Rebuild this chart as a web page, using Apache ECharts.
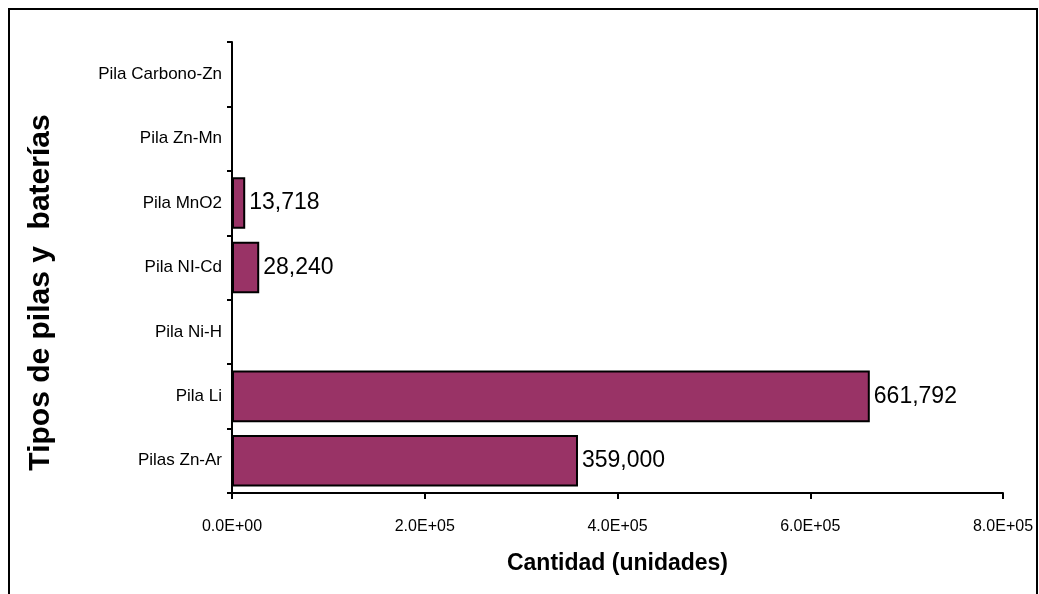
<!DOCTYPE html>
<html>
<head>
<meta charset="utf-8">
<script src="https://cdn.jsdelivr.net/npm/echarts@6/dist/echarts.min.js"></script>
<style>
  html, body { margin: 0; padding: 0; background: #fff; }
  #chart { width: 1039px; height: 594px; }
</style>
</head>
<body>
<div id="chart"></div>
<script>
// categories listed bottom to top
const categories = ['Pilas Zn-Ar', 'Pila Li', 'Pila Ni-H', 'Pila NI-Cd', 'Pila MnO2', 'Pila Zn-Mn', 'Pila Carbono-Zn'];
const quantities = [359000, 661792, null, 28240, 13718, null, null];
const xTicks = [0, 200000, 400000, 600000, 800000];

const font = '"Liberation Sans", Arial, sans-serif';

// 2.0E+05 style
function sci(v) {
  if (v === 0) return '0.0E+00';
  const exp = Math.floor(Math.log10(Math.abs(v)));
  const mant = (v / Math.pow(10, exp)).toFixed(1);
  const e = String(Math.abs(exp)).padStart(2, '0');
  return mant + 'E' + (exp < 0 ? '-' : '+') + e;
}

const chart = echarts.init(document.getElementById('chart'));

chart.setOption({
  backgroundColor: '#fff',
  animation: false,
  graphic: [{
    type: 'rect',
    shape: { x: 9, y: 9, width: 1028, height: 620 },
    style: { fill: 'none', stroke: '#000', lineWidth: 2 },
    silent: true
  }],
  grid: { left: 232, right: 36, top: 42, bottom: 101 },
  xAxis: {
    type: 'value',
    min: xTicks[0],
    max: xTicks[xTicks.length - 1],
    interval: xTicks[1] - xTicks[0],
    name: 'Cantidad (unidades)',
    nameLocation: 'middle',
    nameGap: 59,
    nameTextStyle: { fontFamily: font, fontSize: 23, fontWeight: 'bold', color: '#000' },
    axisLine: { show: true, lineStyle: { color: '#000', width: 2 } },
    axisTick: { show: true, length: 6, lineStyle: { color: '#000', width: 2 } },
    axisLabel: { formatter: sci, fontFamily: font, fontSize: 16, color: '#000', margin: 26 },
    splitLine: { show: false }
  },
  yAxis: {
    type: 'category',
    data: categories,
    name: 'Tipos de pilas y  baterías',
    nameLocation: 'middle',
    nameGap: 176,
    nameRotate: 90,
    nameTextStyle: { fontFamily: font, fontSize: 30, fontWeight: 'bold', color: '#000', padding: [0, 0, 0, -50] },
    axisLine: { show: true, lineStyle: { color: '#000', width: 2 } },
    axisTick: { show: true, length: 5, lineStyle: { color: '#000', width: 2 } },
    axisLabel: { fontFamily: font, fontSize: 17, color: '#000', margin: 10 },
    splitLine: { show: false }
  },
  series: [{
    type: 'bar',
    data: quantities,
    barCategoryGap: '20%',
    itemStyle: { color: '#993366', borderColor: '#000', borderWidth: 2 },
    label: {
      show: true,
      position: 'right',
      distance: 4,
      fontFamily: font,
      fontSize: 23,
      color: '#000',
      formatter: p => p.value == null ? '' : p.value.toLocaleString('en-US')
    }
  }]
});
</script>
</body>
</html>
